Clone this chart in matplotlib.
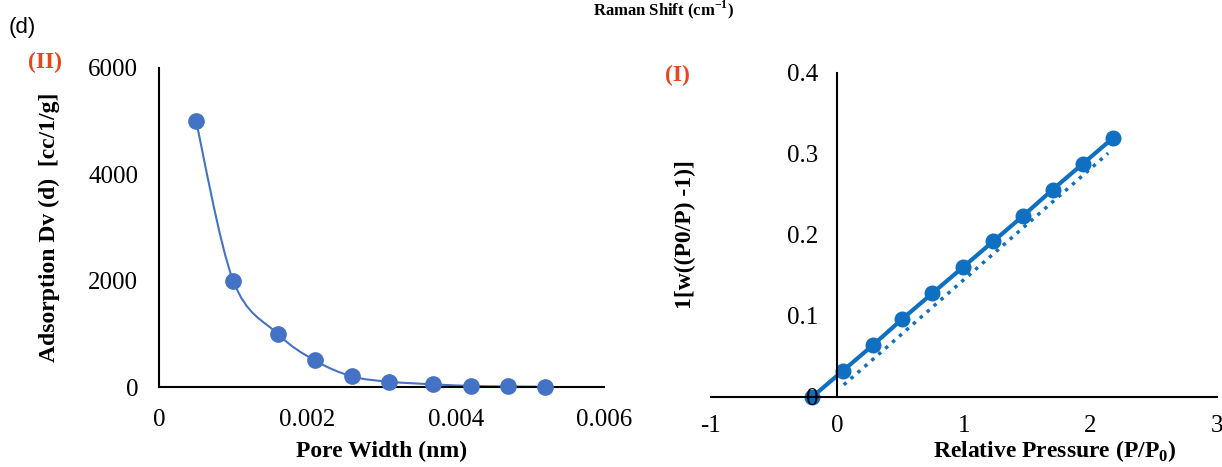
import numpy as np
import matplotlib.pyplot as plt
from matplotlib.path import Path
from matplotlib.patches import PathPatch

plt.rcParams['font.family'] = ['Liberation Serif', 'DejaVu Serif']
plt.rcParams['mathtext.fontset'] = 'custom'
plt.rcParams['mathtext.rm'] = 'Liberation Serif'
plt.rcParams['mathtext.bf'] = 'Liberation Serif:bold'

# (II) pore size distribution
pore_width = [0.0005, 0.0010, 0.0016, 0.0021, 0.0026, 0.0031, 0.0037, 0.0042, 0.0047, 0.0052]
adsorption = [5000, 2000, 1000, 500, 200, 100, 50, 20, 10, 5]

# (I) BET plot
rel_pressure = [-0.2, 0.04, 0.28, 0.51, 0.75, 0.99, 1.23, 1.47, 1.70, 1.94, 2.18]
bet_y = [0.0, 0.032, 0.064, 0.096, 0.128, 0.160, 0.192, 0.224, 0.256, 0.288, 0.320]
trend_x = [0.05, 2.14]
trend_y = [0.015, 0.301]

blue_ii = '#4472c4'
blue_i = '#0f6fc0'
red = '#e8471c'


def smooth_path(xs, ys):
    # Excel style smoothed line: cubic bezier through the points
    p = np.column_stack([xs, ys]).astype(float)
    n = len(p)
    verts = [p[0]]
    codes = [Path.MOVETO]
    for i in range(n - 1):
        p0 = p[i - 1] if i > 0 else p[i]
        p3 = p[i + 2] if i + 2 < n else p[i + 1]
        c1 = p[i] + (p[i + 1] - p0) / 6
        c2 = p[i + 1] - (p3 - p[i]) / 6
        verts += [c1, c2, p[i + 1]]
        codes += [Path.CURVE4] * 3
    return Path(verts, codes)


fig = plt.figure(figsize=(12.22, 4.67), dpi=100)

# ---- left panel ----
ax1 = fig.add_axes([0.1301, 0.1713, 0.3642, 0.6831])
ax1.add_patch(PathPatch(smooth_path(pore_width, adsorption), fill=False,
                        edgecolor=blue_ii, lw=1.5, zorder=2))
ax1.plot(pore_width, adsorption, 'o', color=blue_ii, ms=11, zorder=3, clip_on=False)
ax1.set_xlim(0, 0.006)
ax1.set_ylim(0, 6000)
ax1.set_xticks([0, 0.002, 0.004, 0.006])
ax1.set_xticklabels(['0', '0.002', '0.004', '0.006'])
ax1.set_yticks([0, 2000, 4000, 6000])
ax1.set_yticklabels(['0', '2000', '4000', '6000'])
for s in ['top', 'right']:
    ax1.spines[s].set_visible(False)
for s in ['left', 'bottom']:
    ax1.spines[s].set_linewidth(1.5)
ax1.tick_params(length=0, labelsize=18)
ax1.tick_params(axis='y', pad=15)
ax1.tick_params(axis='x', pad=16)
ax1.set_xlabel('Pore Width (nm)', fontsize=17, fontweight='bold', labelpad=7)
ax1.set_ylabel('Adsorption Dv (d)  [cc/1/g]', fontsize=17, fontweight='bold', labelpad=20)

# ---- right panel ----
ax2 = fig.add_axes([0.5818, 0.1499, 0.4141, 0.6938])
ax2.plot(trend_x, trend_y, ':', color=blue_i, lw=2.5, zorder=1)
ax2.plot(rel_pressure, bet_y, '-o', color=blue_i, lw=3, ms=10.5, zorder=2, clip_on=False)
ax2.set_axisbelow(False)
ax2.set_xlim(-1, 3)
ax2.set_ylim(0, 0.4)
ax2.set_xticks([-1, 0, 1, 2, 3])
ax2.set_xticklabels(['-1', '0', '1', '2', '3'])
ax2.set_yticks([0, 0.1, 0.2, 0.3, 0.4])
ax2.set_yticklabels(['0', '0.1', '0.2', '0.3', '0.4'])
ax2.spines['left'].set_position(('data', 0))
for s in ['top', 'right']:
    ax2.spines[s].set_visible(False)
for s in ['left', 'bottom']:
    ax2.spines[s].set_linewidth(1.5)
ax2.tick_params(length=0, labelsize=18)
ax2.tick_params(axis='y', pad=14)
ax2.tick_params(axis='x', pad=13)
ax2.set_xlabel('Relative Pressure (P/P$_\\mathbf{0}$)', fontsize=17, fontweight='bold',
               labelpad=1, x=0.68)
ax2.yaxis.set_label_coords(-0.03, 0.47, transform=ax2.transAxes)
ax2.set_ylabel('1[w((P0/P) -1)]', fontsize=17, fontweight='bold')

# ---- annotations ----
fig.text(9 / 1222, 1 - 27 / 467, '(d)', family='Liberation Sans', fontsize=16, va='center')
fig.text(45 / 1222, 1 - 62 / 467, '(II)', color=red, fontsize=17, fontweight='bold',
         ha='center', va='center')
fig.text(677 / 1222, 1 - 75 / 467, '(I)', color=red, fontsize=17, fontweight='bold',
         ha='center', va='center')
fig.text(663 / 1222, 1 - 10 / 467, 'Raman Shift (cm$^{\\mathbf{-1}}$)', fontsize=12,
         fontweight='bold', ha='center', va='center')

fig.savefig('out.png', dpi=100)
